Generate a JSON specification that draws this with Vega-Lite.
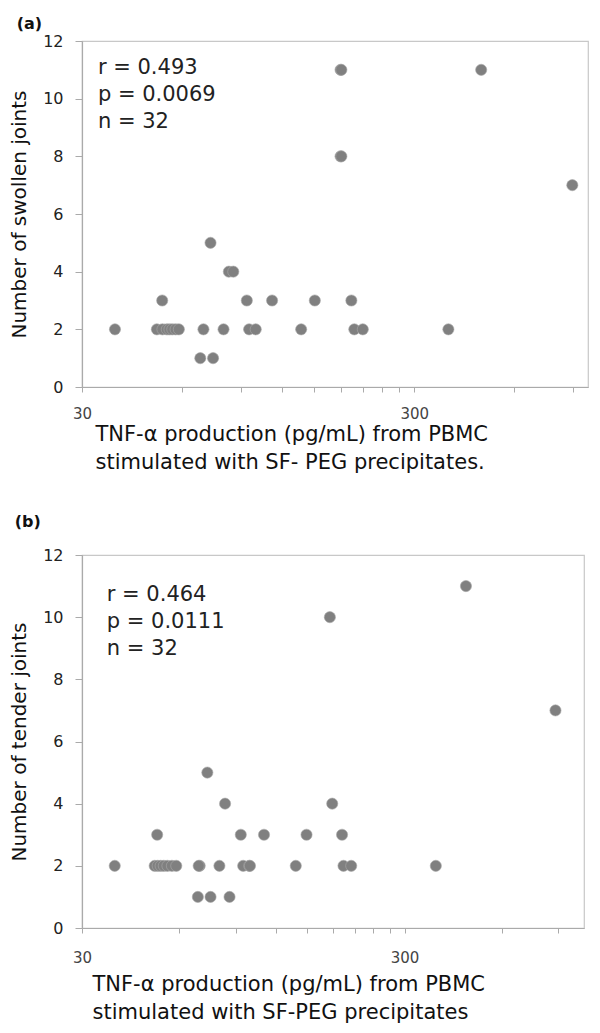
{
  "$schema": "https://vega.github.io/schema/vega-lite/v6.json",
  "padding": {"left": 9, "top": 15, "right": 6, "bottom": 5},
  "background": "white",
  "spacing": 40,
  "config": {
    "font": "DejaVu Sans",
    "view": {"stroke": "#c8c8c8", "strokeWidth": 1.2},
    "axis": {
      "grid": false,
      "domainColor": "#aaaaaa",
      "domainWidth": 1.2,
      "tickColor": "#aaaaaa",
      "labelColor": "#222222",
      "titleColor": "#111111",
      "labelFont": "DejaVu Sans",
      "titleFont": "DejaVu Sans",
      "titleFontWeight": "normal"
    },
    "title": {"font": "DejaVu Sans", "fontWeight": "bold", "fontSize": 16, "color": "#111111"}
  },
  "datasets": {
    "a": [
      {"tnf": 37.7, "joints": 2},
      {"tnf": 52.3, "joints": 3},
      {"tnf": 50.4, "joints": 2},
      {"tnf": 52.4, "joints": 2},
      {"tnf": 54.0, "joints": 2},
      {"tnf": 55.0, "joints": 2},
      {"tnf": 56.1, "joints": 2},
      {"tnf": 57.4, "joints": 2},
      {"tnf": 58.7, "joints": 2},
      {"tnf": 73.1, "joints": 5},
      {"tnf": 83.0, "joints": 4},
      {"tnf": 85.6, "joints": 4},
      {"tnf": 94.0, "joints": 3},
      {"tnf": 112.0, "joints": 3},
      {"tnf": 69.6, "joints": 2},
      {"tnf": 80.0, "joints": 2},
      {"tnf": 95.5, "joints": 2},
      {"tnf": 100.0, "joints": 2},
      {"tnf": 137.0, "joints": 2},
      {"tnf": 897.0, "joints": 7},
      {"tnf": 150.6, "joints": 3},
      {"tnf": 194.0, "joints": 3},
      {"tnf": 198.0, "joints": 2},
      {"tnf": 210.0, "joints": 2},
      {"tnf": 380.0, "joints": 2},
      {"tnf": 180.0, "joints": 11},
      {"tnf": 181.0, "joints": 11},
      {"tnf": 477.0, "joints": 11},
      {"tnf": 180.0, "joints": 8},
      {"tnf": 181.0, "joints": 8},
      {"tnf": 68.1, "joints": 1},
      {"tnf": 74.4, "joints": 1}
    ],
    "b": [
      {"tnf": 37.9, "joints": 2},
      {"tnf": 51.3, "joints": 3},
      {"tnf": 50.4, "joints": 2},
      {"tnf": 51.5, "joints": 2},
      {"tnf": 52.6, "joints": 2},
      {"tnf": 53.8, "joints": 2},
      {"tnf": 55.2, "joints": 2},
      {"tnf": 57.0, "joints": 2},
      {"tnf": 58.8, "joints": 2},
      {"tnf": 73.4, "joints": 5},
      {"tnf": 83.3, "joints": 4},
      {"tnf": 93.2, "joints": 3},
      {"tnf": 110.0, "joints": 3},
      {"tnf": 69.5, "joints": 2},
      {"tnf": 80.0, "joints": 2},
      {"tnf": 94.8, "joints": 2},
      {"tnf": 99.0, "joints": 2},
      {"tnf": 138.0, "joints": 2},
      {"tnf": 149.0, "joints": 3},
      {"tnf": 881.0, "joints": 7},
      {"tnf": 179.0, "joints": 4},
      {"tnf": 192.0, "joints": 3},
      {"tnf": 194.0, "joints": 2},
      {"tnf": 205.0, "joints": 2},
      {"tnf": 375.0, "joints": 2},
      {"tnf": 176.0, "joints": 10},
      {"tnf": 465.0, "joints": 11},
      {"tnf": 68.6, "joints": 1},
      {"tnf": 75.1, "joints": 1},
      {"tnf": 86.0, "joints": 1},
      {"tnf": 69.0, "joints": 2},
      {"tnf": 99.5, "joints": 2}
    ]
  },
  "vconcat": [
    {
      "title": {"text": "(a)", "anchor": "start", "frame": "bounds", "dx": 7, "offset": 1, "fontSize": 16},
      "width": 506,
      "height": 346,
      "layer": [
        {
          "data": {"name": "a"},
          "mark": {"type": "circle", "size": 125, "color": "#808080", "opacity": 1, "stroke": "#a8a8a8", "strokeWidth": 0.6},
          "encoding": {
            "x": {
              "field": "tnf", "type": "quantitative",
              "scale": {"type": "log", "domain": [30, 1000], "nice": false},
              "axis": {
                "values": [30, 60, 90, 120, 150, 180, 210, 240, 270, 300, 600, 900],
                "labelExpr": "datum.value == 30 || datum.value == 300 ? '' + datum.value : ''",
                "labelFlush": false,
                "labelOverlap": false,
                "tickSize": 5,
                "labelPadding": 14,
                "labelFontSize": 15,
                "labelColor": "#444444",
                "title": ["TNF-α production (pg/mL) from PBMC", "stimulated with SF- PEG precipitates."],
                "titleFontSize": 21,
                "titleAnchor": "start",
                "titleAlign": "left",
                "titleBaseline": "top",
                "titleX": 13,
                "titleY": 36,
                "titleLineHeight": 28
              }
            },
            "y": {
              "field": "joints", "type": "quantitative",
              "scale": {"domain": [0, 12], "nice": false},
              "axis": {
                "values": [0, 2, 4, 6, 8, 10, 12],
                "tickSize": 7,
                "labelPadding": 12,
                "labelFontSize": 16,
                "title": "Number of swollen joints",
                "titleFontSize": 20,
                "titlePadding": 13
              }
            }
          }
        },
        {
          "data": {"values": [{}]},
          "mark": {"type": "text", "align": "left", "baseline": "middle", "fontSize": 21, "lineHeight": 27, "color": "#222222"},
          "encoding": {
            "x": {"datum": 33.5, "type": "quantitative"},
            "y": {"datum": 11.05, "type": "quantitative"},
            "text": {"value": ["r = 0.493", "p = 0.0069", "n = 32"]}
          }
        }
      ]
    },
    {
      "title": {"text": "(b)", "anchor": "start", "frame": "bounds", "dx": 5, "offset": 17, "fontSize": 16},
      "width": 502,
      "height": 373,
      "layer": [
        {
          "data": {"name": "b"},
          "mark": {"type": "circle", "size": 125, "color": "#808080", "opacity": 1, "stroke": "#a8a8a8", "strokeWidth": 0.6},
          "encoding": {
            "x": {
              "field": "tnf", "type": "quantitative",
              "scale": {"type": "log", "domain": [30, 1080], "nice": false},
              "axis": {
                "values": [30, 60, 90, 120, 150, 180, 210, 240, 270, 300, 600, 900],
                "labelExpr": "datum.value == 30 || datum.value == 300 ? '' + datum.value : ''",
                "labelFlush": false,
                "labelOverlap": false,
                "tickSize": 5,
                "labelPadding": 17,
                "labelFontSize": 15,
                "labelColor": "#444444",
                "title": ["TNF-α production (pg/mL) from PBMC", "stimulated with SF-PEG precipitates"],
                "titleFontSize": 21,
                "titleAnchor": "start",
                "titleAlign": "left",
                "titleBaseline": "top",
                "titleX": 10,
                "titleY": 45,
                "titleLineHeight": 28
              }
            },
            "y": {
              "field": "joints", "type": "quantitative",
              "scale": {"domain": [0, 12], "nice": false},
              "axis": {
                "values": [0, 2, 4, 6, 8, 10, 12],
                "tickSize": 7,
                "labelPadding": 12,
                "labelFontSize": 16,
                "title": "Number of tender joints",
                "titleFontSize": 20,
                "titlePadding": 13
              }
            }
          }
        },
        {
          "data": {"values": [{}]},
          "mark": {"type": "text", "align": "left", "baseline": "middle", "fontSize": 21, "lineHeight": 27, "color": "#222222"},
          "encoding": {
            "x": {"datum": 35.8, "type": "quantitative"},
            "y": {"datum": 10.72, "type": "quantitative"},
            "text": {"value": ["r = 0.464", "p = 0.0111", "n = 32"]}
          }
        }
      ]
    }
  ]
}
